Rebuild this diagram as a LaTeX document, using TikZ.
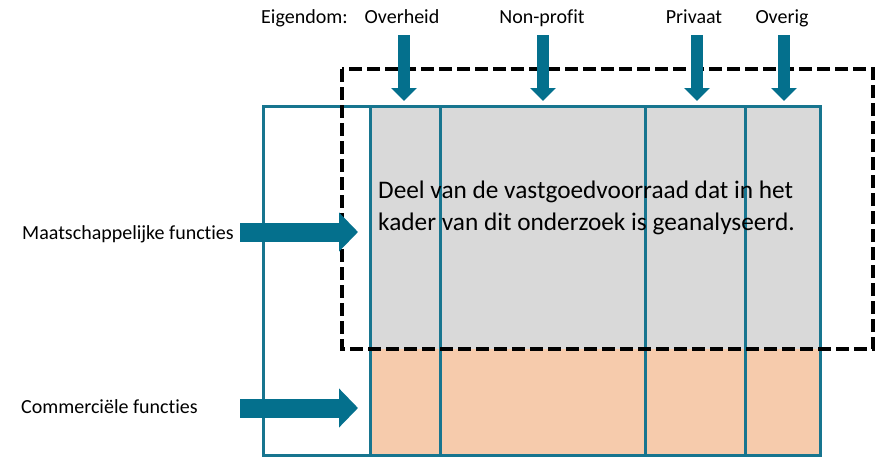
\documentclass[tikz,border=0pt]{standalone}
\usepackage{fontspec}
\setmainfont{Carlito}[Ligatures={NoCommon,NoRare,NoContextual}]
\usetikzlibrary{arrows.meta}
\definecolor{tealc}{HTML}{04708D}
\definecolor{linec}{HTML}{17758F}
\definecolor{grayf}{HTML}{D9D9D9}
\definecolor{peachf}{HTML}{F6CBAC}
\tikzset{
  lbl/.style={inner sep=0pt, font=\fontsize{20}{24}\selectfont, text=black},
  maintxt/.style={inner sep=0pt, anchor=base west, font=\fontsize{25.3}{32}\selectfont, text=black},
  downarr/.style={draw=tealc, line width=12pt, -{Triangle[width=25pt,length=13pt]}},
  rightarr/.style={draw=tealc, line width=19pt, -{Triangle[width=38pt,length=19pt]}},
  boxline/.style={draw=linec, line width=3pt},
  dashbox/.style={draw=black, line width=4pt, dash pattern=on 13pt off 5pt}
}
\begin{document}
\begin{tikzpicture}[x=1pt,y=-1pt]
\useasboundingbox (0,0) rectangle (895,475);
% fills
\fill[grayf] (370,106) rectangle (820,349);
\fill[peachf] (370,349) rectangle (820,455);
% column lines
\draw[boxline] (370,106) -- (370,455);
\draw[boxline] (440,106) -- (440,455);
\draw[boxline] (645,106) -- (645,455);
\draw[boxline] (745,106) -- (745,455);
\draw[boxline] (263,106) rectangle (820,455);
% dashed box
\draw[dashbox] (342,69) rectangle (873,349);
% main text
\node[maintxt] (t1) at (378,198) {Deel van de vastgoedvoorraad dat in het};
\node[maintxt] (t2) at (378,230) {kader van dit onderzoek is geanalyseerd.};
% top labels
\node[lbl, anchor=base west] (eig) at (261,23) {Eigendom:};
\node[lbl, anchor=base] (ovh) at (402,23) {Overheid};
\node[lbl, anchor=base] (npf) at (542,23) {Non-profit};
\node[lbl, anchor=base] (pri) at (694,23) {Privaat};
\node[lbl, anchor=base] (ovr) at (782,23) {Overig};
% left labels
\node[lbl, anchor=base west] (maat) at (22,239) {Maatschappelijke functies};
\node[lbl, anchor=base west] (comm) at (21,413) {Commerciële functies};
% arrow coordinates
\coordinate (a1s) at (404,35); \coordinate (a1e) at (404,101);
\coordinate (a2s) at (543,35); \coordinate (a2e) at (543,101);
\coordinate (a3s) at (697,35); \coordinate (a3e) at (697,101);
\coordinate (a4s) at (784,35); \coordinate (a4e) at (784,101);
\coordinate (a5s) at (240,232); \coordinate (a5e) at (358,232);
\coordinate (a6s) at (240,408); \coordinate (a6e) at (358,408);
\draw[downarr] (a1s) -- (a1e);
\draw[downarr] (a2s) -- (a2e);
\draw[downarr] (a3s) -- (a3e);
\draw[downarr] (a4s) -- (a4e);
\draw[rightarr] (a5s) -- (a5e);
\draw[rightarr] (a6s) -- (a6e);
\end{tikzpicture}
\end{document}
